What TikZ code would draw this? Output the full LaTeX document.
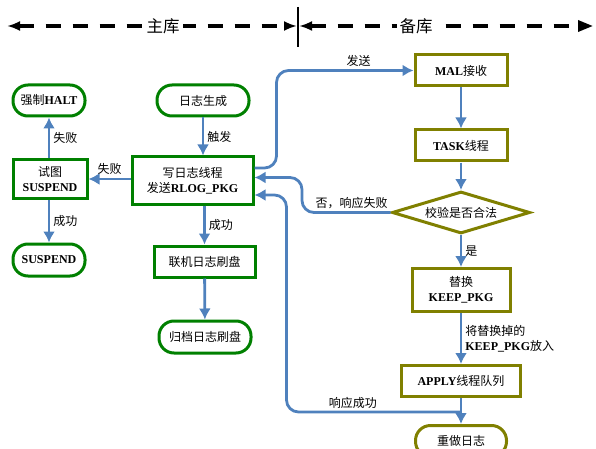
\documentclass[tikz,border=0pt]{standalone}
\usepackage{fontspec}
\setmainfont{Noto Sans CJK SC}
\newfontfamily\latfont{Liberation Serif}
\newcommand{\ltn}[1]{{\latfont\bfseries #1}}
\usepackage{tikz}
\usetikzlibrary{arrows.meta,shapes.geometric,calc}
\definecolor{zhugreen}{RGB}{0,128,0}
\definecolor{beiolive}{RGB}{128,128,0}
\definecolor{flowblue}{RGB}{79,129,189}

\begin{document}
\begin{tikzpicture}[x=1pt,y=-1pt,font=\fontsize{12}{15}\selectfont,
kbox/.style n args={3}{draw=#1,line width=3pt,rectangle,inner sep=0pt,align=center,minimum width=#2,minimum height=#3},
kterm/.style n args={3}{kbox={#1}{#2}{#3},rounded corners=15pt},
flow/.style={draw=flowblue,line width=2.8pt,-{Latex[length=11pt,width=12pt]}},
hdash/.style={line width=3.2pt,dash pattern=on 15pt off 12pt},
lbl/.style={inner sep=3pt}]
\useasboundingbox (0,0) rectangle (596,449);
% top: primary / standby
\coordinate (lend) at (7,26);
\coordinate (lmid) at (297,26);
\coordinate (rmid) at (299,26);
\coordinate (rend) at (593,26);
\draw[hdash,{Latex[length=13pt,width=10pt]}-{Latex[length=13pt,width=10pt]}] (lend) -- (lmid);
\draw[hdash,{Latex[length=13pt,width=10pt]}-{Triangle[length=15pt,width=11pt]}] (rmid) -- (rend);
\draw[line width=1.6pt] (298,7) -- (298,47);
\node[fill=white,inner sep=3pt,font=\fontsize{16.5}{18}\selectfont] (zhu) at (163,26) {主库};
\node[fill=white,inner sep=3pt,font=\fontsize{16.5}{18}\selectfont] (bei) at (416,26) {备库};
% primary side
\node[kterm={zhugreen}{72pt}{31pt}] (halt) at (49,100.5) {强制\ltn{HALT}};
\node[kbox={zhugreen}{74pt}{38pt}] (try) at (50,179) {试图\\\ltn{SUSPEND}};
\node[kterm={zhugreen}{72pt}{32pt}] (susp) at (49,260) {\ltn{SUSPEND}};
\node[kterm={zhugreen}{92pt}{31pt}] (gen) at (203,100.5) {日志生成};
\node[kbox={zhugreen}{121pt}{47pt}] (write) at (192.5,180.5) {写日志线程\\发送\ltn{RLOG\_PKG}};
\node[kbox={zhugreen}{101pt}{31pt}] (online) at (204.5,261.5) {联机日志刷盘};
\node[kterm={zhugreen}{92pt}{32pt}] (archive) at (205,337) {归档日志刷盘};
% standby side
\node[kbox={beiolive}{92pt}{31pt}] (mal) at (461,70.5) {\ltn{MAL}接收};
\node[kbox={beiolive}{92pt}{31pt}] (task) at (461,145.5) {\ltn{TASK}线程};
\node[kbox={beiolive}{138pt}{42pt},diamond,aspect=3.3] (check) at (461,212.5) {校验是否合法};
\node[kbox={beiolive}{98pt}{43pt}] (replace) at (461,290) {替换\\\ltn{KEEP\_PKG}};
\node[kbox={beiolive}{119pt}{31pt}] (apply) at (461,381) {\ltn{APPLY}线程队列};
\node[kterm={beiolive}{91pt}{31pt}] (redo) at (461,441) {重做日志};
% primary flow
\draw[flow] (gen.south) -- node[lbl,right]{触发} (gen.south |- write.north);
\draw[flow] (online.north |- write.south) -- node[lbl,right]{成功} (online.north);
\draw[flow] (online) -- (archive);
\draw[flow] (write.west |- try.east) -- node[lbl,above]{失败} (try.east);
\draw[flow] (try.north -| halt.south) -- node[lbl,right]{失败} (halt.south);
\draw[flow] (try.south -| susp.north) -- node[lbl,right]{成功} (susp.north);
% standby flow
\draw[flow] (mal) -- (task);
\draw[flow] (task) -- (check);
\draw[flow] (check) -- node[lbl,right]{是} (replace);
\draw[flow] (replace) -- node[lbl,right,align=left]{将替换掉的\\\ltn{KEEP\_PKG}放入} (apply);
\draw[flow] (apply) -- (redo);
\coordinate (resp) at ([yshift=-14pt]apply.south);
% between the two
\draw[flow,rounded corners=12pt] ([yshift=12.5pt]write.east) -| ([xshift=-137pt]mal.west) -- node[lbl,above,pos=0.6]{发送} (mal.west);
\draw[flow,rounded corners=12pt] (check.west) -| node[lbl,above,pos=0.22,inner sep=2pt]{否，响应失败} ([xshift=47.5pt,yshift=3pt]write.east) -- ([yshift=3pt]write.east);
\draw[flow,rounded corners=12pt] (resp) -| node[lbl,above,pos=0.31,inner sep=2pt]{响应成功} ([xshift=32pt,yshift=-14.5pt]write.east) -- ([yshift=-14.5pt]write.east);
\end{tikzpicture}
\end{document}
